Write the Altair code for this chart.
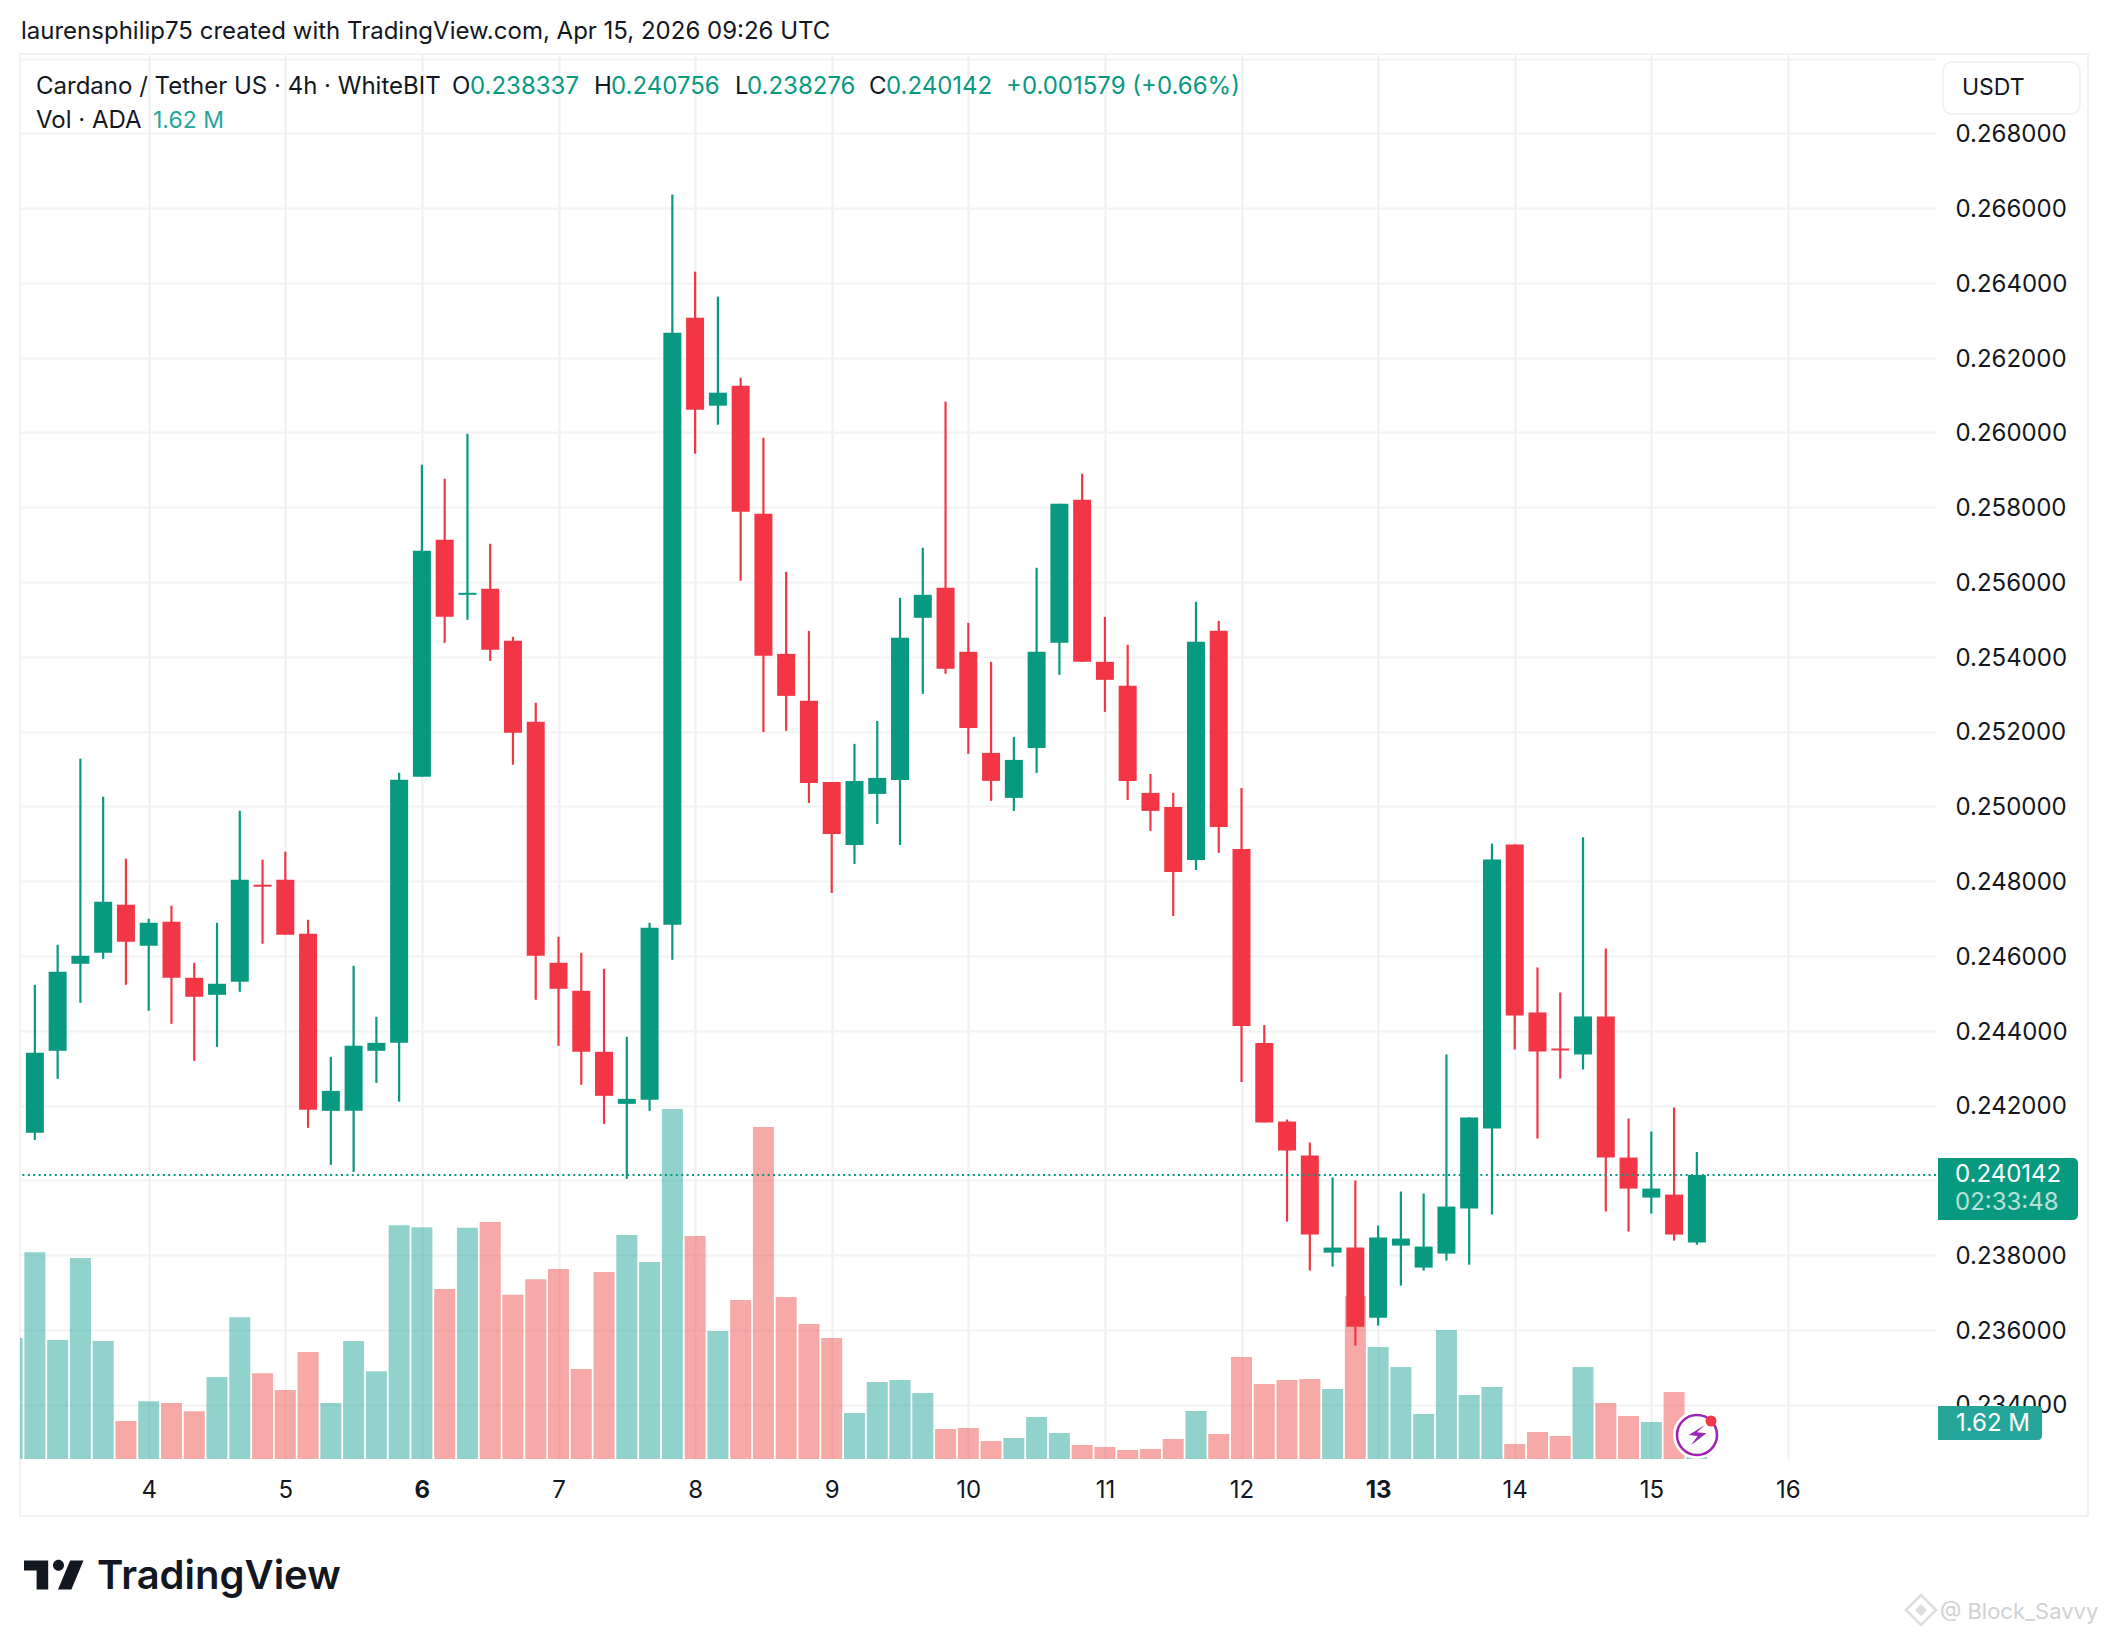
import altair as alt
import pandas as pd

# ---- series (price in ADA/USDT) ----
highs = [.245229,.246299,.251277,.250260,.248601,.246995,.247343,.245818,.246888,.249885,
         .248574,.248788,.246968,.243302,.245737,.244373,.250902,.259138,.258763,.259967,
         .257024,.254535,.252775,.246514,.246085,.245657,.243838,.246888,.266363,.264303,
         .263634,.261466,.259860,.256275,.254696,.250655,.251672,.252287,.255579,.256917,
         .260824,.254910,.253866,.251859,.256382,.258094,.258897,.255070,.254321,.250869,
         .250361,.255472,.254963,.250494,.244152,.241625,.241010,.240073,.239993,.238789,
         .239699,.239645,.243365,.241679,.249011,.248984,.245693,.245024,.249172,.246201,
         .241652,.241304,.241946,.240756]
tops  = [.243409,.245577,.246005,.247450,.247370,.246888,.246915,.245416,.245256,.248039,
         .247905,.248039,.246594,.242392,.243597,.243677,.250715,.256837,.257131,.255713,
         .255820,.254428,.252267,.245818,.245068,.243436,.242178,.246754,.262670,.263072,
         .261065,.261252,.257827,.254080,.252823,.250655,.250682,.250762,.254508,.255659,
         .255846,.254134,.251431,.251244,.254134,.258094,.258201,.253866,.253224,.250361,
         .249986,.254401,.254696,.248862,.243671,.241572,.240662,.238200,.238200,.238468,
         .238441,.238227,.239297,.241679,.248583,.248984,.244489,.243525,.244382,.244382,
         .240608,.239779,.239618,.240142]
bots  = [.241269,.243463,.245791,.246085,.246380,.246273,.245416,.244908,.244961,.245309,
         .247852,.246567,.241884,.241857,.241857,.243463,.243677,.250795,.255070,.255659,
         .254187,.251973,.246005,.245122,.243436,.242259,.242045,.242152,.246835,.260610,
         .260717,.257880,.254027,.252956,.250628,.249263,.248969,.250334,.250709,.255044,
         .253679,.252100,.250682,.250227,.251565,.254375,.253866,.253385,.250682,.249879,
         .248247,.248568,.249451,.244126,.241545,.240796,.238548,.238066,.236086,.236327,
         .238254,.237665,.238040,.239244,.241385,.244408,.243445,.243472,.243365,.240608,
         .239779,.239538,.238548,.238337]
lows  = [.241081,.242714,.244747,.245925,.245229,.244533,.244185,.243195,.243570,.245042,
         .246326,.246567,.241402,.240412,.240225,.242607,.242098,.250795,.254375,.254990,
         .253893,.251116,.244828,.243597,.242553,.241509,.240038,.241857,.245898,.259432,
         .260208,.256034,.251993,.252020,.250093,.247685,.248461,.249531,.248969,.253010,
         .253545,.251404,.250147,.249879,.250896,.253518,.253866,.252528,.250173,.249344,
         .247069,.248300,.248755,.242627,.241545,.238896,.237585,.237692,.235578,.236113,
         .237183,.237585,.237852,.237745,.239083,.243499,.241117,.242723,.242963,.239163,
         .238628,.239110,.238387,.238276]
directions = ["u","u","u","u","d","u","d","d","u","u",
              "d","d","d","u","u","u","u","u","d","u",
              "d","d","d","d","d","d","u","u","u","d",
              "u","d","d","d","d","d","u","u","u","u",
              "d","d","d","u","u","u","d","d","d","d",
              "d","u","d","d","d","d","d","u","d","u",
              "u","u","u","u","u","d","d","d","u","d",
              "d","u","d","u"]
# volume in millions; the first bar belongs to the candle just off the left edge
volumes = [60.5,103.4,59.5,100.5,59.0,19.0,28.9,28.0,23.9,41.0,70.9,
           42.9,34.5,53.5,28.0,59.0,43.9,116.9,115.9,85.0,115.6,
           118.5,82.1,89.9,95.0,45.0,93.5,112.0,98.5,175.0,111.5,
           64.0,79.5,166.0,81.0,67.5,60.5,23.0,38.5,39.5,33.0,
           15.0,15.5,9.0,10.5,21.0,13.0,7.0,6.0,4.5,5.0,
           10.0,24.0,12.5,51.0,37.5,39.5,40.0,35.0,81.5,56.0,
           46.0,22.5,64.5,32.0,36.0,7.5,13.5,11.5,46.0,28.0,
           21.5,18.5,33.5,1.62]
volume_directions = ["u"] + directions
first_day = 3 + 1/6
last_close = 0.240142
price_ticks = [0.234,0.236,0.238,0.240,0.242,0.244,0.246,0.248,0.250,0.252,0.254,
               0.256,0.258,0.260,0.262,0.264,0.266,0.268,0.270]
day_ticks = [4,5,6,7,8,9,10,11,12,13,14,15,16]

UP, DOWN = "#089981", "#F23645"
VUP, VDOWN = "#26A69A", "#EF5350"
INK = "#131722"
FONT = "Inter"
OX, OY = 20, 54          # plot origin on the page

candles = pd.DataFrame({"day":[first_day+i/6 for i in range(len(highs))],
                        "high":highs,"top":tops,"bot":bots,"low":lows,"dir":directions})
vols = pd.DataFrame({"day":[first_day+(i-1)/6 for i in range(len(volumes))],
                     "vol":volumes,"dir":volume_directions})

xscale = alt.Scale(domain=[3.0578,17.084],nice=False,zero=False,padding=0)
yscale = alt.Scale(domain=[0.232546,0.270123],nice=False,zero=False)
volscale = alt.Scale(domain=[0,702.5],nice=False,zero=True)
colorscale = alt.Scale(domain=["u","d"],range=[UP,DOWN])

xaxis = alt.Axis(values=day_ticks,title=None,domain=False,ticks=False,grid=True,gridColor="#f0f0f2",gridWidth=2,
                 labelFont=FONT,labelFontSize=24,labelColor=INK,labelPadding=19,format="d",labelFlush=False,labelOverlap=False,
                 labelFontWeight={"condition":{"test":"datum.value == 6 || datum.value == 13","value":700},"value":400})
yaxis = alt.Axis(values=price_ticks,title=None,orient="right",domain=False,ticks=False,grid=True,gridColor="#f3f3f4",gridWidth=2,
                 labelFont=FONT,labelFontSize=24,labelColor=INK,labelPadding=19,labelOffset=1.3,format=".6f",labelOverlap=False,
                 labelExpr="(datum.value > 0.269 || abs(datum.value - 0.24) < 0.0001) ? '' : datum.label")

def one(text="x"):
    return alt.Chart(alt.Data(values=[{"t":text}]))

def T(text,X,Y,color=INK,size=24,weight=400,opacity=1,align="left"):
    return one(text).mark_text(font=FONT,fontSize=size,fontWeight=weight,color=color,opacity=opacity,align=align,baseline="middle").encode(
        text="t:N",x=alt.value(X-OX),y=alt.value(Y-OY))

def box(X0,X1,Y0,Y1,**kw):
    return one().mark_rect(**kw).encode(x=alt.value(X0-OX),x2=alt.value(X1-OX),y=alt.value(Y0-OY),y2=alt.value(Y1-OY))

def glyph(X,Y,path,half,**kw):
    return one().mark_point(shape=path,size=(2*half)**2,**kw).encode(x=alt.value(X-OX),y=alt.value(Y-OY))

frame = box(20,2088,54,1516,fill="transparent",stroke="#f2f2f4",strokeWidth=2)

vol_layer = alt.Chart(vols).mark_bar(width=21,orient="vertical",clip=True,opacity=0.5).encode(
    x=alt.X("day:Q",scale=xscale,axis=xaxis),
    y=alt.Y("vol:Q",scale=volscale,axis=None,stack=None),
    color=alt.condition("datum.dir == 'u'",alt.value(VUP),alt.value(VDOWN)))

wicks = alt.Chart(candles).mark_rule(strokeWidth=2.2).encode(
    x=alt.X("day:Q",scale=xscale,axis=xaxis),
    y=alt.Y("low:Q",scale=yscale,axis=yaxis),y2="high:Q",
    color=alt.Color("dir:N",scale=colorscale,legend=None))
bodies = alt.Chart(candles).mark_bar(width=18,orient="vertical").encode(
    x=alt.X("day:Q",scale=xscale,axis=xaxis),
    y=alt.Y("bot:Q",scale=yscale,axis=None),y2="top:Q",
    color=alt.Color("dir:N",scale=colorscale,legend=None))
last_line = alt.Chart(alt.Data(values=[{"p":last_close}])).mark_rule(stroke=UP,strokeWidth=2,strokeDash=[2,3.4]).encode(
    y=alt.Y("p:Q",scale=yscale,axis=None))

overlays = [
    # price and volume tags
    box(1938,2078,1158,1220,fill=UP,cornerRadiusTopRight=5,cornerRadiusBottomRight=5),
    T("0.240142",1955,1175,color="#ffffff"),
    T("02:33:48",1955,1203,color="#ffffff",opacity=0.7),
    box(1938,2042,1406,1440,fill=VUP,cornerRadiusTopRight=4,cornerRadiusBottomRight=4),
    T("1.62 M",1956,1424,color="#ffffff"),
    # currency button
    box(1943,2080,62,114,fill="#ffffff",stroke="#f0f0f2",strokeWidth=1.5,cornerRadius=9),
    T("USDT",1962,88,size=23),
    # header
    T("laurensphilip75 created with TradingView.com, Apr 15, 2026 09:26 UTC",21,32),
    T("Cardano / Tether US · 4h · WhiteBIT",36,87),
    T("O",452,87),T("0.238337",470,87,color=UP),
    T("H",594,87),T("0.240756",611,87,color=UP),
    T("L",735,87),T("0.238276",747,87,color=UP),
    T("C",869,87),T("0.240142",886,87,color=UP),
    T("+0.001579 (+0.66%)",1006,87,color=UP),
    T("Vol · ADA",36,121),T("1.62 M",153,121,color=VUP,size=23),
    # TradingView wordmark
    glyph(54,1575,"M-1,-0.483 L-0.193,-0.483 L-0.193,0.487 L-0.58,0.487 L-0.58,-0.15 L-1,-0.15 Z "
          "M-0.033,-0.323 A0.183,0.183 0 1 0 0.333,-0.323 A0.183,0.183 0 1 0 -0.033,-0.323 Z "
          "M0.983,-0.483 L0.537,-0.483 L0.133,0.487 L0.58,0.487 Z",30,filled=True,fill=INK,stroke=None,opacity=1),
    T("TradingView",97,1577,size=40,weight=600),
    # purple badge
    glyph(1697,1435,"circle",21,filled=True,fill="#ffffff",stroke="#ffffff",strokeWidth=6,opacity=1),
    glyph(1697,1435,"circle",20,filled=False,stroke="#9C27B0",strokeWidth=2.6,opacity=1),
    glyph(1697,1435,"M.69,-.85 L-.69,0 L.05,.09 L-.5,.85 L.78,-.14 L0,-.23 Z",12,filled=True,fill="#9C27B0",stroke=None,opacity=1),
    glyph(1711,1421,"circle",5.5,filled=True,fill=DOWN,stroke=None,opacity=1),
    # watermark
    glyph(1921,1610,"diamond",15,filled=False,stroke="#dcdee0",strokeWidth=2.5,opacity=1),
    glyph(1921,1610,"diamond",6,filled=True,fill="#dcdee0",stroke=None,opacity=1),
    T("@ Block_Savvy",1940,1612,color="#cfd2d4",size=22),
]

chart = alt.layer(frame,vol_layer,wicks,bodies,last_line,*overlays).resolve_scale(
    y="independent",x="shared",color="independent"
).properties(
    width=1916,height=1405,
    autosize=alt.AutoSizeParams(type="none"),
    padding={"left":12,"top":46,"right":164,"bottom":169},
    background="#ffffff",
).configure_view(stroke=None)

chart.save("out.html",embed_options={"renderer":"svg","actions":False})
